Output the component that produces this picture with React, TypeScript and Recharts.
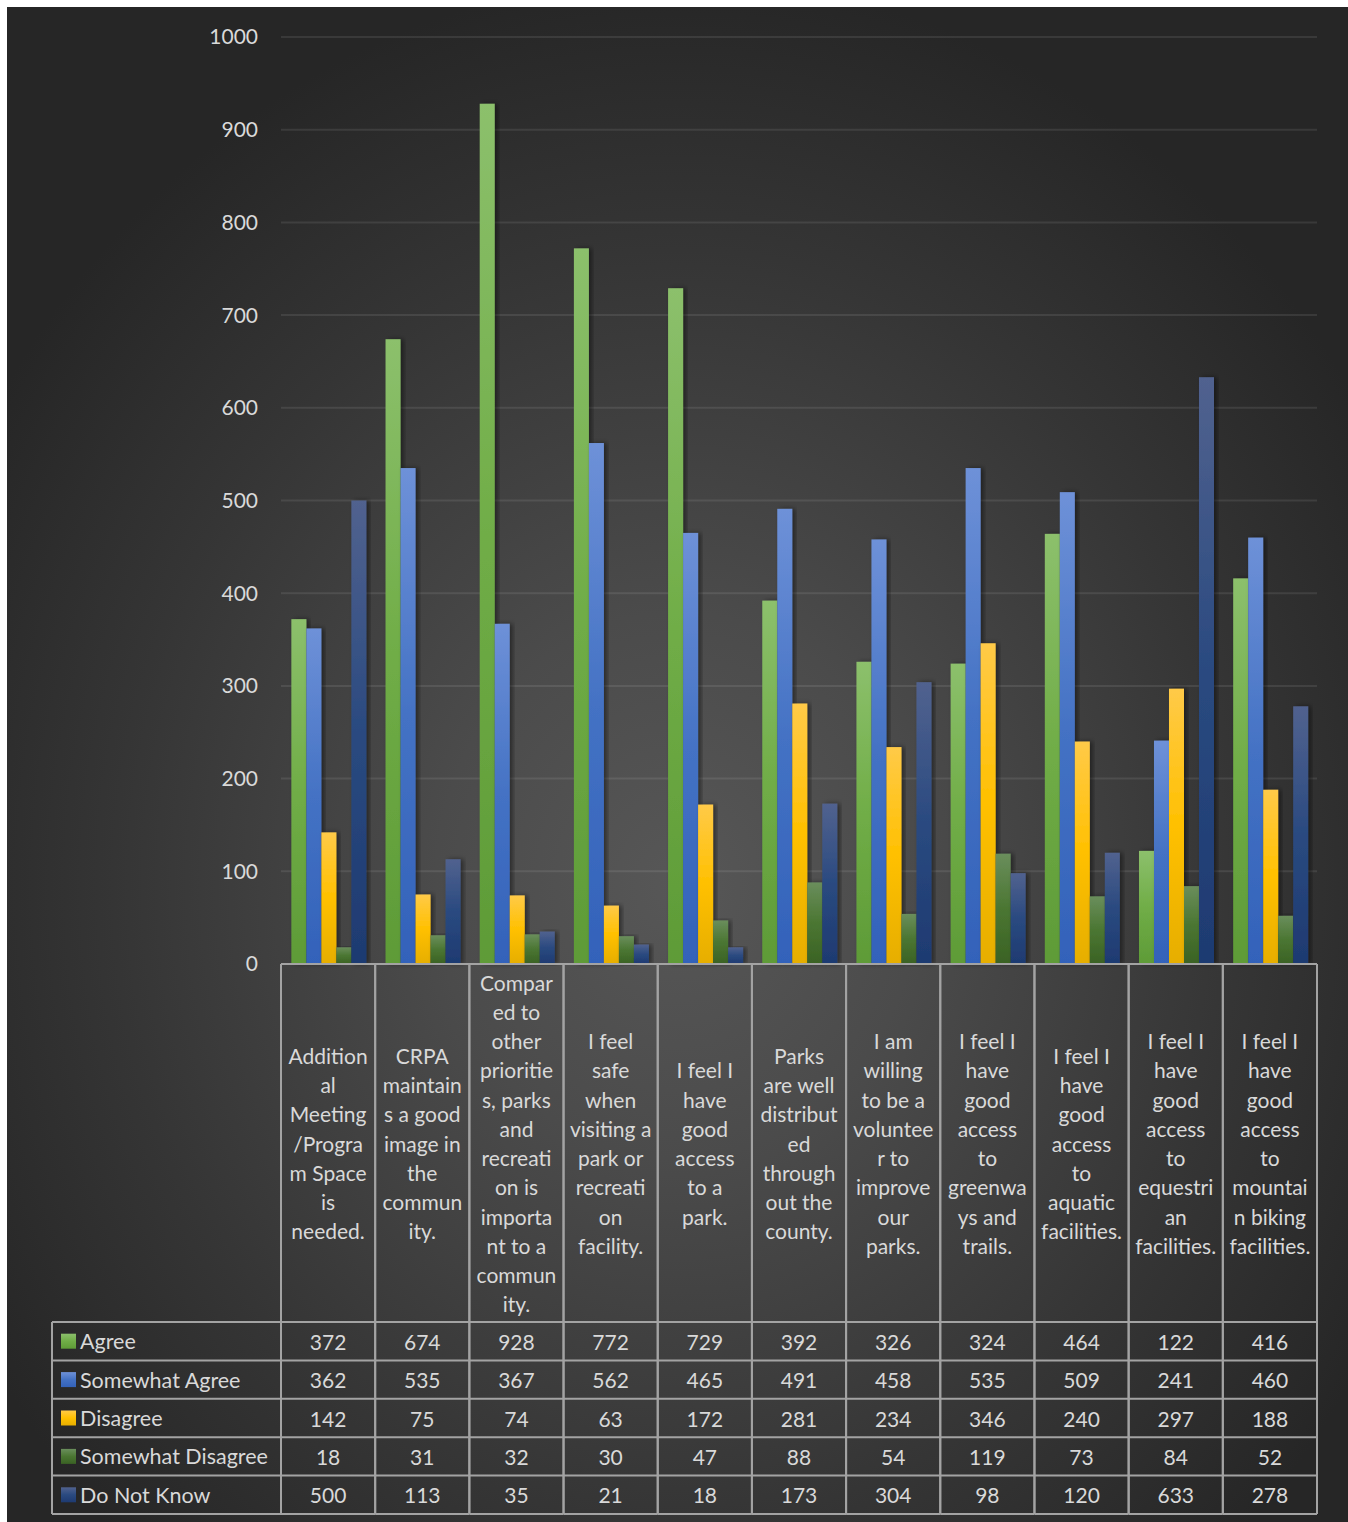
import React from "react";
import { BarChart, Bar, XAxis, YAxis, CartesianGrid } from "recharts";

const categoryLines: string[][] = [
  ["Addition", "al", "Meeting", "/Progra", "m Space", "is", "needed."],
  ["CRPA", "maintain", "s a good", "image in", "the", "commun", "ity."],
  ["Compar", "ed to", "other", "prioritie", "s, parks", "and", "recreati", "on is", "importa", "nt to a", "commun", "ity."],
  ["I feel", "safe", "when", "visiting a", "park or", "recreati", "on", "facility."],
  ["I feel I", "have", "good", "access", "to a", "park."],
  ["Parks", "are well", "distribut", "ed", "through", "out the", "county."],
  ["I am", "willing", "to be a", "voluntee", "r to", "improve", "our", "parks."],
  ["I feel I", "have", "good", "access", "to", "greenwa", "ys and", "trails."],
  ["I feel I", "have", "good", "access", "to", "aquatic", "facilities."],
  ["I feel I", "have", "good", "access", "to", "equestri", "an", "facilities."],
  ["I feel I", "have", "good", "access", "to", "mountai", "n biking", "facilities."],
];

const agree = [372, 674, 928, 772, 729, 392, 326, 324, 464, 122, 416];
const somewhatAgree = [362, 535, 367, 562, 465, 491, 458, 535, 509, 241, 460];
const disagree = [142, 75, 74, 63, 172, 281, 234, 346, 240, 297, 188];
const somewhatDisagree = [18, 31, 32, 30, 47, 88, 54, 119, 73, 84, 52];
const doNotKnow = [500, 113, 35, 21, 18, 173, 304, 98, 120, 633, 278];

const yTicks = [0, 100, 200, 300, 400, 500, 600, 700, 800, 900, 1000];

const series = [
  { key: "agree", name: "Agree", values: agree, light: "#8cc06c", base: "#70ad47", dark: "#5e9b37" },
  { key: "somewhatAgree", name: "Somewhat Agree", values: somewhatAgree, light: "#6e91d8", base: "#4472c4", dark: "#3362ba" },
  { key: "disagree", name: "Disagree", values: disagree, light: "#ffca48", base: "#ffc000", dark: "#e6ae00" },
  { key: "somewhatDisagree", name: "Somewhat Disagree", values: somewhatDisagree, light: "#6a8e5c", base: "#4b7632", dark: "#3a6224" },
  { key: "doNotKnow", name: "Do Not Know", values: doNotKnow, light: "#51628f", base: "#2a4a80", dark: "#1e3a71" },
];

const data = categoryLines.map((lines, i) => {
  const row: Record<string, any> = { name: lines.join(" "), idx: i };
  series.forEach((s) => (row[s.key] = s.values[i]));
  return row;
});

const FONT = "Lato, 'Open Sans', sans-serif";
const TEXT = "#d9d9d9";
const LINE = "#a3a3a3";
const LABEL_H = 358;
const ROW_H = 38.4;
const LINE_H = 29.25;
const LEFT_COL_W = 229;

const TableTick = (props: any) => {
  const { x, y, payload, width } = props;
  const i = payload.index;
  const n = categoryLines.length;
  const colW = (width || 1036) / n;
  const top = y;
  const l = x - colW / 2;
  const r = x + colW / 2;
  const bottom = top + LABEL_H + ROW_H * series.length;
  const lines = categoryLines[i] || [];
  const c = top + LABEL_H / 2;
  const start = c - ((lines.length - 1) * LINE_H) / 2;
  const els: React.ReactNode[] = [];
  lines.forEach((ln, k) => {
    els.push(
      <text key={"l" + k} x={x} y={start + k * LINE_H} textAnchor="middle" dominantBaseline="central" fill={TEXT} fontSize={21} fontFamily={FONT}>
        {ln}
      </text>
    );
  });
  series.forEach((s, k) => {
    els.push(
      <text key={"v" + k} x={x} y={top + LABEL_H + ROW_H * k + ROW_H / 2} textAnchor="middle" dominantBaseline="central" fill={TEXT} fontSize={21} fontFamily={FONT}>
        {s.values[i]}
      </text>
    );
  });
  els.push(<line key="vl" x1={l} y1={top} x2={l} y2={bottom} stroke={LINE} strokeWidth={2} />);
  els.push(<line key="vr" x1={r} y1={top} x2={r} y2={bottom} stroke={LINE} strokeWidth={2} />);
  for (let k = 0; k <= series.length; k++) {
    const yy = top + LABEL_H + ROW_H * k;
    els.push(<line key={"h" + k} x1={l} y1={yy} x2={r} y2={yy} stroke={LINE} strokeWidth={2} />);
  }
  if (i === 0) {
    const L = l - LEFT_COL_W;
    els.push(<line key="ll" x1={L} y1={top + LABEL_H} x2={L} y2={bottom} stroke={LINE} strokeWidth={2} />);
    for (let k = 0; k <= series.length; k++) {
      const yy = top + LABEL_H + ROW_H * k;
      els.push(<line key={"lh" + k} x1={L} y1={yy} x2={l} y2={yy} stroke={LINE} strokeWidth={2} />);
    }
    series.forEach((s, k) => {
      const cy = top + LABEL_H + ROW_H * k + ROW_H / 2;
      els.push(<rect key={"lk" + k} x={L + 9} y={cy - 7.5} width={15} height={15} fill={`url(#grad-${s.key})`} />);
      els.push(
        <text key={"lt" + k} x={L + 28} y={cy} dominantBaseline="central" fill={TEXT} fontSize={21.5} fontFamily={FONT}>
          {s.name}
        </text>
      );
    });
  }
  return <g>{els}</g>;
};

const BarShape = (key: string) => (props: any) => {
  const { x, y, width, height } = props;
  if (!height || height <= 0) return <g />;
  return <rect x={x} y={y} width={width} height={height} fill={`url(#grad-${key})`} filter="url(#barShadow)" />;
};

export default function App() {
  return (
    <div
      style={{
        position: "absolute",
        left: 7,
        top: 7,
        width: 1341,
        height: 1515,
        background:
          "radial-gradient(ellipse 805px 909px at 50% 58%, #575757 0%, #4b4b4b 30%, #353535 70%, #262626 100%)",
      }}
    >
      <BarChart
        width={1341}
        height={1515}
        data={data}
        margin={{ top: 30, right: 31, left: 0, bottom: 0 }}
        barCategoryGap="11%"
        barGap={0}
      >
        <defs>
          {series.map((s) => (
            <linearGradient key={s.key} id={`grad-${s.key}`} x1="0" y1="0" x2="0" y2="1">
              <stop offset="0%" stopColor={s.light} />
              <stop offset="50%" stopColor={s.base} />
              <stop offset="100%" stopColor={s.dark} />
            </linearGradient>
          ))}
          <filter id="barShadow" x="-30%" y="-5%" width="160%" height="110%">
            <feDropShadow dx="3" dy="0" stdDeviation="2.5" floodColor="#000" floodOpacity="0.45" />
          </filter>
        </defs>
        <CartesianGrid vertical={false} stroke="#ffffff" strokeOpacity={0.09} strokeWidth={2} />
        <XAxis
          dataKey="name"
          height={558}
          interval={0}
          tickSize={0}
          tickMargin={0}
          tickLine={false}
          axisLine={{ stroke: LINE, strokeWidth: 2 }}
          tick={<TableTick />}
        />
        <YAxis
          width={274}
          domain={[0, 1000]}
          ticks={yTicks}
          tickSize={0}
          tickMargin={23}
          tickLine={false}
          axisLine={false}
          tick={{ fill: TEXT, fontSize: 21, fontFamily: FONT }}
        />
        {series.map((s) => (
          <Bar key={s.key} dataKey={s.key} name={s.name} fill={s.base} isAnimationActive={false} shape={BarShape(s.key)} />
        ))}
      </BarChart>
    </div>
  );
}
